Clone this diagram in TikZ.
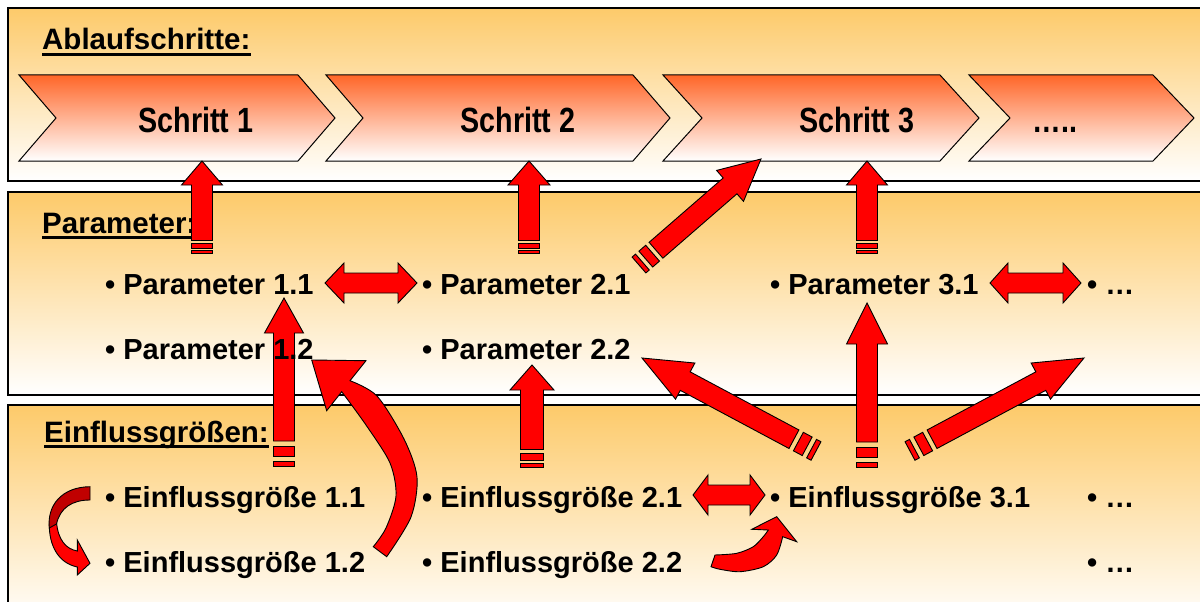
\documentclass[tikz,border=0pt]{standalone}
\usepackage{fontspec}
\setmainfont{Liberation Sans}
\newfontfamily\narrowfont{Liberation Sans}[FakeStretch=0.82]
\definecolor{panelorange}{RGB}{253,202,106}
\definecolor{chevorange}{RGB}{255,102,40}
\definecolor{arrowred}{RGB}{255,0,0}
\definecolor{ribbondark}{RGB}{192,0,0}

% striped block arrow: tail x,y ; tip x,y ; head length ; head half width ; shaft half width ; stripe unit
\newcommand\sarrow[8]{%
  \pgfmathsetmacro\sdx{#3-#1}\pgfmathsetmacro\sdy{#4-#2}%
  \pgfmathsetmacro\sang{atan2(-\sdy,\sdx)}%
  \pgfmathsetmacro\slen{veclen(\sdx,\sdy)}%
  \pgfmathsetmacro\sbase{\slen-#5}%
  \begin{scope}[shift={(#1,#2)},rotate=\sang]
    \draw[blockarrow] (0,-#7) rectangle (#8,#7);
    \draw[blockarrow] (2*#8,-#7) rectangle (4*#8,#7);
    \draw[blockarrow] (5*#8,-#7) -- (\sbase,-#7) -- (\sbase,-#6) -- (\slen,0)
       -- (\sbase,#6) -- (\sbase,#7) -- (5*#8,#7) -- cycle;
  \end{scope}}
% horizontal double arrow: x1 ; x2 ; y ; head length
\newcommand\darrow[4]{%
  \draw[blockarrow] (#1,#3) -- (#1+#4,#3-20) -- (#1+#4,#3-10) -- (#2-#4,#3-10)
    -- (#2-#4,#3-20) -- (#2,#3) -- (#2-#4,#3+20) -- (#2-#4,#3+10)
    -- (#1+#4,#3+10) -- (#1+#4,#3+20) -- cycle;}
% chevron: left ; right ; depth
\newcommand\chevron[3]{%
  \draw[chev] (#1,75) -- (#2,75) -- (#2+#3,118) -- (#2,161) -- (#1,161) -- (#1+#3,118) -- cycle;}

\begin{document}
\begin{tikzpicture}[x=1pt,y=-1pt,
  panel/.style={draw=black, line width=1.3pt, top color=panelorange, bottom color=white},
  chev/.style={draw=black, line width=1pt, top color=chevorange, bottom color=white},
  blockarrow/.style={draw=black, line width=0.9pt, fill=arrowred, line join=miter},
  body/.style={font=\fontsize{29}{34}\selectfont\bfseries, inner sep=0pt, anchor=base west},
  heading/.style={font=\fontsize{29.5}{34}\selectfont\bfseries, inner sep=0pt, anchor=base west},
  schritt/.style={font=\narrowfont\fontsize{35}{40}\selectfont\bfseries, inner sep=0pt, anchor=base},
  uline/.style={line width=2.6pt}]
\useasboundingbox (0,0) rectangle (1200,602);
\clip (0,0) rectangle (1200,602);
\fill[white] (0,0) rectangle (1200,602);

% panels
\draw[panel] (8,8) rectangle (1215,181);
\draw[panel] (8,192) rectangle (1215,395);
\draw[panel] (8,405) rectangle (1215,625);

% headings
\node[heading] (hA) at (42,50) {Ablaufschritte:};
\node[heading] (hP) at (42,233) {Parameter:};
\node[heading] (hE) at (44,442) {Einflussgrößen:};
\draw[uline] ([yshift=-4.5pt]hA.base west) -- ([yshift=-4.5pt]hA.base east);
\draw[uline] ([yshift=-4.5pt]hP.base west) -- ([yshift=-4.5pt]hP.base east);
\draw[uline] ([yshift=-4.5pt]hE.base west) -- ([yshift=-4.5pt]hE.base east);

% chevrons
\chevron{19}{298}{37}
\chevron{326}{633}{37}
\chevron{663}{940}{39}
\chevron{969}{1153}{41}
\node[schritt] (s1) at (196,132) {Schritt 1};
\node[schritt] (s2) at (518,132) {Schritt 2};
\node[schritt] (s3) at (857,132) {Schritt 3};
\node[schritt] (s4) at (1055,132) {…..};

% straight striped arrows
\sarrow{202}{253}{202}{161}{24}{20.5}{10.5}{2.5}
\sarrow{529}{253}{529}{161}{24}{21}{10.5}{2.5}
\sarrow{867}{253}{867}{161}{24}{20.5}{10.5}{2.5}
\sarrow{639}{265}{761}{159}{41}{20.5}{10.5}{4.5}
\sarrow{284}{466}{284}{298}{35}{19.5}{10.5}{5}
\sarrow{532}{467}{532}{365}{25}{22}{11.5}{3.5}
\sarrow{867}{467}{867}{303}{41}{20.5}{10.5}{5}
\sarrow{816}{451}{642}{358}{49}{20.5}{10.5}{5}
\sarrow{910}{451}{1084}{358}{49}{20.5}{10.5}{5}

% double arrows
\darrow{325}{417}{283}{19}
\darrow{990}{1081}{283}{18}
\darrow{693}{765}{495}{15}

% curved arrow Einflussgroesse 1.2 -> Parameter 1.2
\draw[blockarrow] (311.7,360) -- (366,360.7) -- (350,380.7)
  -- plot[smooth] coordinates {(350,380.7) (377,396) (404,439) (417,477) (411,517) (386.7,556.7)}
  -- (373.3,546.7)
  -- plot[smooth] coordinates {(373.3,546.7) (386,528) (396,496) (390,463) (366,425) (341.7,391.7)}
  -- (326.7,410.7) -- cycle;

% curved arrow Einflussgroesse 2.2 -> 3.1
\draw[blockarrow] (715,555)
  -- plot[smooth] coordinates {(715,555) (736.7,553.3) (753.3,546.7) (763.3,536.7) (768.3,530)}
  -- (751.7,529.3) -- (776.7,516.7) -- (796.7,541.7) -- (782.7,536.7)
  -- plot[smooth] coordinates {(782.7,536.7) (776.7,555) (763.3,566.7) (740,571.7) (720,569.3) (711,566.7)}
  -- cycle;

% ribbon arrow Einflussgroesse 1.1 -> 1.2
\draw[blockarrow] (49.3,524) .. controls (49,545) and (58,563) .. (77.3,567)
  -- (77.3,575) -- (90,563.3) -- (77.3,540) -- (77.3,551)
  .. controls (66,549) and (58,540) .. (56.5,522) -- cycle;
\draw[blockarrow, fill=ribbondark] (90,486.7) -- (90,500)
  .. controls (72,500) and (60,508) .. (56.5,524) -- (49.3,528)
  .. controls (47,505) and (62,487) .. (90,486.7) -- cycle;

% body texts
\node[body] (p11) at (105,294) {• Parameter 1.1};
\node[body] (p12) at (105,359) {• Parameter 1.2};
\node[body] (p21) at (422,294) {• Parameter 2.1};
\node[body] (p22) at (422,359) {• Parameter 2.2};
\node[body] (p31) at (770,294) {• Parameter 3.1};
\node[body] (pd) at (1087,294) {• …};
\node[body] (e11) at (105,507) {• Einflussgröße 1.1};
\node[body] (e12) at (105,572) {• Einflussgröße 1.2};
\node[body] (e21) at (422,507) {• Einflussgröße 2.1};
\node[body] (e22) at (422,572) {• Einflussgröße 2.2};
\node[body] (e31) at (770,507) {• Einflussgröße 3.1};
\node[body] (ed1) at (1087,507) {• …};
\node[body] (ed2) at (1087,572) {• …};
\end{tikzpicture}
\end{document}
